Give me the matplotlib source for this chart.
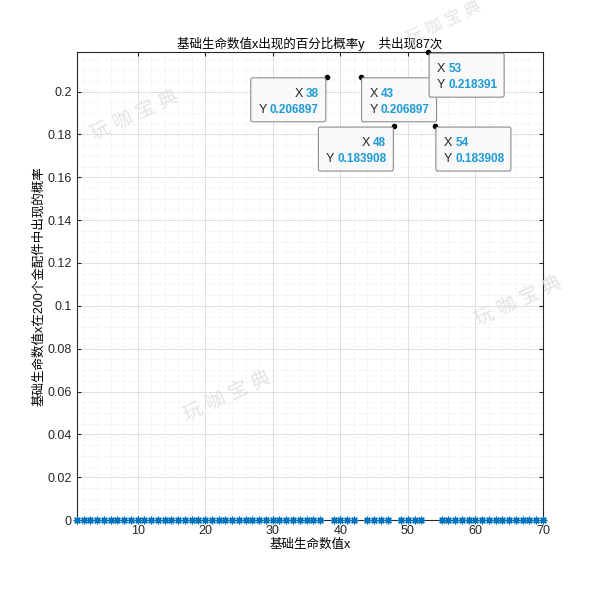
import numpy as np
import matplotlib
matplotlib.use('Agg')
import matplotlib.pyplot as plt
import matplotlib.transforms as mtransforms
from matplotlib.patches import FancyBboxPatch
from matplotlib.ticker import MultipleLocator

plt.rcParams['font.family'] = ['Liberation Sans', 'Noto Sans CJK SC', 'DejaVu Sans']

total = 87
x = np.arange(1, 71)
counts = np.zeros(70)
counts[[37, 42, 47, 52, 53]] = [18, 18, 16, 19, 16]
prob = counts / total

# data tips: x value, box side (-1 = left of point, 1 = right)
tip_x = [38, 43, 48, 53, 54]
tip_side = [-1, 1, -1, 1, 1]

blue = '#0072BD'
tipblue = '#1E9BD7'

fig = plt.figure(figsize=(6, 5.93), dpi=100)
ax = fig.add_axes([0.128, 0.123, 0.777, 0.789])

zero = prob == 0
ax.plot(x[zero], prob[zero], linestyle='none', marker=(8, 2, 0), markersize=5.5,
        color=blue, markeredgewidth=0.9, clip_on=False, zorder=5)

ax.set_xlim(1, 70)
ax.set_ylim(0, prob.max())
ax.xaxis.set_major_locator(MultipleLocator(10))
ax.xaxis.set_minor_locator(MultipleLocator(2))
ax.yaxis.set_minor_locator(MultipleLocator(0.005))
ax.set_yticks(np.arange(0, 0.21, 0.02))
ax.set_yticklabels(['0', '0.02', '0.04', '0.06', '0.08', '0.1', '0.12', '0.14',
                    '0.16', '0.18', '0.2'])
ax.grid(True, which='major', color='#dadada', linewidth=0.6)
ax.grid(True, which='minor', color='#e6e6e6', linewidth=0.6, linestyle=':')
ax.tick_params(which='both', direction='in', top=True, right=True,
               labelsize=9, colors='#262626', length=3)
ax.tick_params(which='minor', length=0)
for s in ax.spines.values():
    s.set_color('#262626')
    s.set_linewidth(0.8)
ax.set_axisbelow(True)

ax.set_title('基础生命数值x出现的百分比概率y    共出现87次', fontsize=9, pad=3)
ax.set_xlabel('基础生命数值x', fontsize=9, labelpad=1)
ax.set_ylabel('基础生命数值x在200个金配件中出现的概率', fontsize=9, labelpad=2)

fig.canvas.draw()
renderer = fig.canvas.get_renderer()
bw, bh = 75, 44
fs = 8.5
for tx, sx in zip(tip_x, tip_side):
    ty = prob[tx - 1]
    base = mtransforms.IdentityTransform() + mtransforms.ScaledTranslation(tx, ty, ax.transData)
    ax.plot([tx], [ty], 'o', color='black', markersize=3, clip_on=False, zorder=8)
    x0 = 1 if sx > 0 else -bw - 1
    y0 = -1 - bh
    box = FancyBboxPatch((x0, y0), bw, bh, boxstyle='round,pad=0,rounding_size=2',
                         facecolor='#f9f9f9', edgecolor='#8c8c8c', linewidth=0.8,
                         transform=base, clip_on=False, zorder=9)
    fig.add_artist(box)
    lines = [('X', f'{tx:g}', y0 + bh - 19), ('Y', f'{ty:.6f}', y0 + bh - 35)]
    for lab, val, yy in lines:
        if sx > 0:
            lt = fig.text(x0 + 8, yy, lab, fontsize=fs + 0.5, color='#262626',
                          ha='left', va='baseline', transform=base, zorder=10)
            ext = lt.get_window_extent(renderer)
            fig.text(x0 + 8 + ext.width + 3, yy, val, fontsize=fs, color=tipblue,
                     fontweight='bold', ha='left', va='baseline', transform=base, zorder=10)
        else:
            vt = fig.text(x0 + bw - 7, yy, val, fontsize=fs, color=tipblue,
                          fontweight='bold', ha='right', va='baseline', transform=base, zorder=10)
            ext = vt.get_window_extent(renderer)
            fig.text(x0 + bw - 7 - ext.width - 3, yy, lab, fontsize=fs + 0.5, color='#262626',
                     ha='right', va='baseline', transform=base, zorder=10)

# watermarks
for wx, wy, fsz in [(0.225, 0.805, 14), (0.38, 0.33, 14), (0.865, 0.49, 14), (0.74, 0.962, 12)]:
    fig.text(wx, wy, '玩 咖 宝 典', fontsize=fsz, color='#dddddd', alpha=0.8,
             rotation=25, ha='center', va='center', zorder=11)

fig.savefig('out.png', dpi=100)
